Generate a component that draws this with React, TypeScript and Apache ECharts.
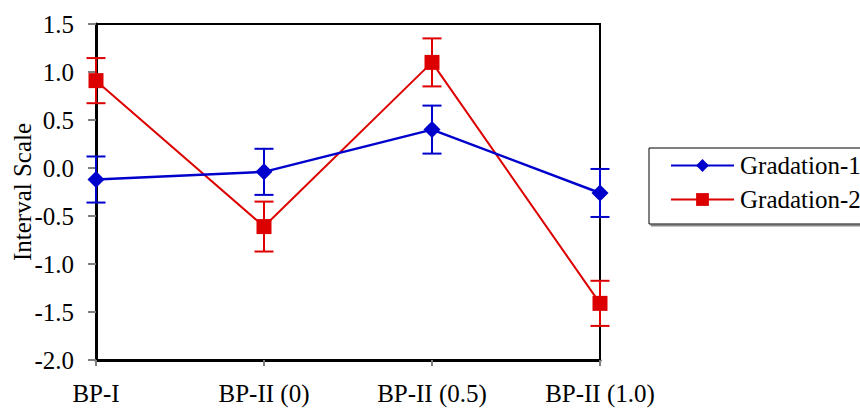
import React, { useEffect, useRef } from "react";
import * as echarts from "echarts";

const categories = ["BP-I", "BP-II (0)", "BP-II (0.5)", "BP-II (1.0)"];
const gradation1 = [-0.12, -0.04, 0.4, -0.26];
const gradation1Err = [0.24, 0.24, 0.25, 0.25];
const gradation2 = [0.91, -0.61, 1.1, -1.41];
const gradation2Err = [0.235, 0.26, 0.25, 0.235];
const seriesNames = ["Gradation-1", "Gradation-2"];
const colors = ["#0000cc", "#dd0000"];

const FONT = "Liberation Serif";

function errorSeries(values: number[], errs: number[], color: string) {
  return {
    type: "custom",
    silent: true,
    z: 1,
    clip: false,
    data: values.map((v, i) => [i, v - errs[i], v + errs[i]]),
    renderItem: (params: any, api: any) => {
      const i = api.value(0);
      const lo = api.coord([i, api.value(1)]);
      const hi = api.coord([i, api.value(2)]);
      const hw = 9.5;
      const style = { stroke: color, lineWidth: 2, fill: "none" };
      return {
        type: "group",
        children: [
          { type: "line", shape: { x1: lo[0], y1: lo[1], x2: hi[0], y2: hi[1] }, style },
          { type: "line", shape: { x1: lo[0] - hw, y1: lo[1], x2: lo[0] + hw, y2: lo[1] }, style },
          { type: "line", shape: { x1: hi[0] - hw, y1: hi[1], x2: hi[0] + hw, y2: hi[1] }, style },
        ],
      };
    },
  };
}

export default function App() {
  const ref = useRef<HTMLDivElement>(null);
  useEffect(() => {
    if (!ref.current) return;
    const chart = echarts.init(ref.current, undefined, { renderer: "svg" });
    chart.setOption({
      animation: false,
      backgroundColor: "#ffffff",
      textStyle: { fontFamily: FONT },
      grid: {
        left: 96,
        right: 260,
        top: 24,
        bottom: 48,
        containLabel: false,
        outerBoundsMode: "none",
        show: true,
        borderColor: "#000",
        borderWidth: 2,
        backgroundColor: "transparent",
      },
      legend: {
        orient: "vertical",
        left: 649,
        top: 148,
        data: seriesNames,
        backgroundColor: "#fff",
        borderColor: "#000",
        borderWidth: 1,
        shadowColor: "#888",
        shadowOffsetX: 2,
        shadowOffsetY: 2,
        shadowBlur: 0,
        padding: [5, 30, 12, 21],
        itemWidth: 63,
        itemHeight: 16,
        itemGap: 9,
        textStyle: { fontFamily: FONT, fontSize: 25, color: "#000", lineHeight: 24, padding: [0, 0, 0, 1] },
      },
      xAxis: {
        type: "category",
        data: categories,
        boundaryGap: false,
        axisLine: { onZero: false, lineStyle: { color: "#000", width: 3 } },
        axisTick: { alignWithLabel: true, length: 6, lineStyle: { color: "#808080", width: 2 } },
        axisLabel: { fontFamily: FONT, fontSize: 25, color: "#000", margin: 21 },
        splitLine: { show: false },
      },
      yAxis: {
        type: "value",
        min: -2,
        max: 1.5,
        interval: 0.5,
        name: "Interval Scale",
        nameLocation: "middle",
        nameRotate: 90,
        nameGap: 61,
        nameMoveOverlap: false,
        nameTextStyle: { fontFamily: FONT, fontSize: 25, color: "#000" },
        axisLine: { show: true, lineStyle: { color: "#000", width: 3 } },
        axisTick: { show: true, length: 8, lineStyle: { color: "#808080", width: 2 } },
        axisLabel: {
          fontFamily: FONT,
          fontSize: 25,
          color: "#000",
          margin: 22,
          formatter: (v: number) => v.toFixed(1),
        },
        splitLine: { show: false },
      },
      series: [
        errorSeries(gradation1, gradation1Err, colors[0]),
        errorSeries(gradation2, gradation2Err, colors[1]),
        {
          name: seriesNames[0],
          type: "line",
          z: 3,
          data: gradation1,
          symbol: "diamond",
          symbolSize: [17, 17],
          lineStyle: { color: colors[0], width: 2.5 },
          itemStyle: { color: colors[0] },
        },
        {
          name: seriesNames[1],
          type: "line",
          z: 2,
          data: gradation2,
          symbol: "rect",
          symbolSize: [15, 15],
          lineStyle: { color: colors[1], width: 2 },
          itemStyle: { color: colors[1] },
        },
      ],
    });
    return () => chart.dispose();
  }, []);
  return (
    <div
      ref={ref}
      style={{ position: "fixed", left: 0, top: 0, width: 860, height: 408, background: "#fff" }}
    />
  );
}
